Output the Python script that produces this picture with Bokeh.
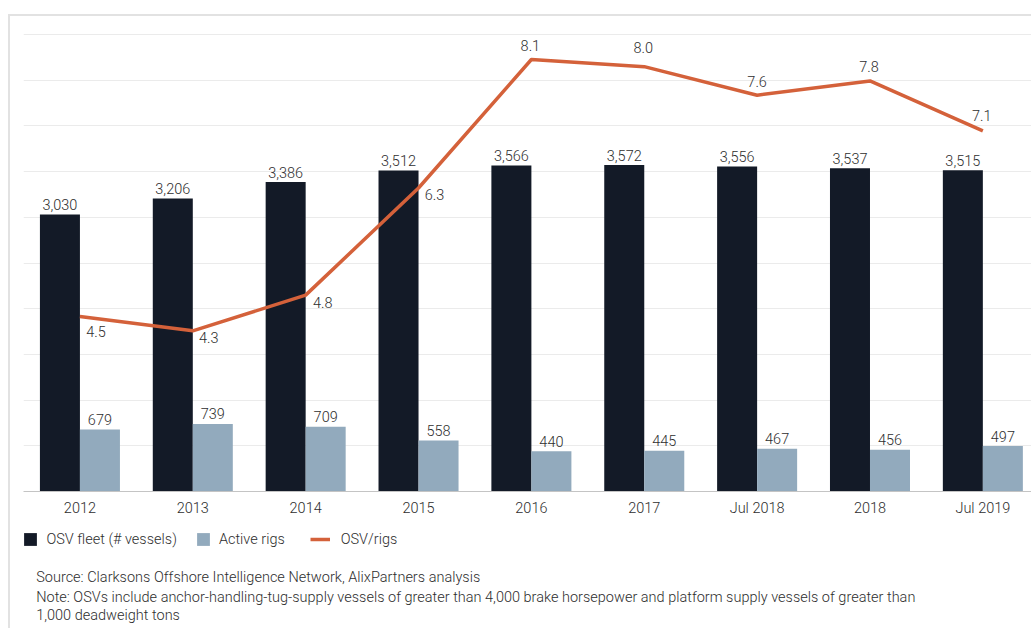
from bokeh.plotting import figure
from bokeh.layouts import column
from bokeh.models import (Range1d, FixedTicker, ColumnDataSource, Legend,
                          LegendItem, Label)
from bokeh.transform import dodge
from bokeh.core.properties import value
from bokeh.embed import file_html
from bokeh.resources import INLINE

# ---------------- data ----------------
categories = ["2012", "2013", "2014", "2015", "2016", "2017", "Jul 2018", "2018", "Jul 2019"]
osv_fleet = [3030, 3206, 3386, 3512, 3566, 3572, 3556, 3537, 3515]
active_rigs = [679, 739, 709, 558, 440, 445, 467, 456, 497]
osv_per_rig = [4.5, 4.3, 4.8, 6.3, 8.1, 8.0, 7.6, 7.8, 7.1]
series_names = ["OSV fleet (# vessels)", "Active rigs", "OSV/rigs"]

source_text = "Source: Clarksons Offshore Intelligence Network, AlixPartners analysis"
note_line1 = ("Note: OSVs include anchor-handling-tug-supply vessels of greater than 4,000 brake "
              "horsepower and platform supply vessels of greater than")
note_line2 = "1,000 deadweight tons"

# label placement (screen px offsets) for the ratio labels
ratio_dx = [16, 16, 17, 16, -1, -1, 0, -1, -1]
ratio_dy = [15, 7, 7, 6, -14, -19, -14, -14, -15]

# ---------------- style ----------------
FONT = "Roboto Light, Roboto"
FS = "14.5px"
TXT = "#2e2e2e"
DARK = "#131a27"
LIGHT = "#92aabd"
ORANGE = "#d4613a"
BW = 0.3545

idx = list(range(len(categories)))
src = ColumnDataSource(dict(
    x=idx,
    fleet=osv_fleet,
    rigs=active_rigs,
    ratio=osv_per_rig,
    fleet_lbl=[f"{v:,}" for v in osv_fleet],
    rigs_lbl=[f"{v:,}" for v in active_rigs],
    ratio_lbl=[f"{v:.1f}" for v in osv_per_rig],
    dx=ratio_dx,
    dy=ratio_dy,
))

# ---------------- main chart ----------------
p = figure(width=1021, height=506, output_backend="svg", toolbar_location=None,
           x_range=Range1d(-0.5, 8.431), y_range=Range1d(0, 5044),
           y_axis_location=None,
           min_border_left=13, min_border_right=0, min_border_top=14,
           min_border_bottom=31)
p.extra_y_ranges = {"ratio": Range1d(2.05, 8.506)}
p.outline_line_color = None
p.background_fill_color = "white"
p.border_fill_color = "white"

p.xgrid.visible = False
p.ygrid.ticker = FixedTicker(ticks=[500 * k for k in range(1, 11)])
p.ygrid.grid_line_color = "#ebebeb"
p.ygrid.grid_line_width = 1

xa = p.xaxis[0]
xa.ticker = FixedTicker(ticks=idx)
xa.major_label_overrides = {i: c for i, c in zip(idx, categories)}
xa.axis_line_color = "#c4c4c4"
xa.major_tick_line_color = None
xa.minor_tick_line_color = None
xa.major_label_standoff = 2
xa.major_label_text_font = FONT
xa.major_label_text_font_size = FS
xa.major_label_text_color = TXT

p.vbar(x=dodge("x", -BW / 2, range=p.x_range), top="fleet", width=BW,
       fill_color=DARK, line_color=None, source=src)
p.vbar(x=dodge("x", BW / 2, range=p.x_range), top="rigs", width=BW,
       fill_color=LIGHT, line_color=None, source=src)
p.line(x="x", y="ratio", y_range_name="ratio", line_color=ORANGE,
       line_width=3.5, line_join="round", source=src)

common = dict(text_font=value(FONT), text_font_size=FS, text_color=TXT,
              text_align="center", text_baseline="middle", source=src)
p.text(x=dodge("x", -BW / 2, range=p.x_range), y="fleet", text="fleet_lbl",
       y_offset=-10, **common)
p.text(x=dodge("x", BW / 2, range=p.x_range), y="rigs", text="rigs_lbl",
       y_offset=-10, **common)
p.text(x="x", y="ratio", y_range_name="ratio", text="ratio_lbl",
       x_offset="dx", y_offset="dy", **common)

# ---------------- legend + notes panel ----------------
H2 = 106
p2 = figure(width=1021, height=H2, output_backend="svg", toolbar_location=None,
            x_range=Range1d(0, 1), y_range=Range1d(0, 1),
            x_axis_location=None, y_axis_location=None, min_border=0)
p2.grid.visible = False
p2.outline_line_color = None
p2.background_fill_color = "white"
p2.border_fill_color = "white"

# legend-only renderers (same series, hidden in this panel)
k1 = p2.vbar(x="x", top="fleet", width=BW, fill_color=DARK, line_color=None,
             source=src, visible=False)
k2 = p2.vbar(x="x", top="rigs", width=BW, fill_color=LIGHT, line_color=None,
             source=src, visible=False)
k3 = p2.line(x="x", y="ratio", line_color=ORANGE, line_width=3.5,
             source=src, visible=False)

leg_common = dict(orientation="horizontal", margin=0, padding=0, glyph_height=16,
                  border_line_color=None, background_fill_alpha=0,
                  inactive_fill_alpha=0, click_policy="none",
                  label_text_font=FONT, label_text_font_size=FS, label_text_color=TXT)
legend1 = Legend(items=[LegendItem(label=series_names[0], renderers=[k1]),
                        LegendItem(label=series_names[1], renderers=[k2])],
                 location=(-0.6, H2 - 25.5), spacing=18, glyph_width=16,
                 label_standoff=8, **leg_common)
legend2 = Legend(items=[LegendItem(label=series_names[2], renderers=[k3])],
                 location=(286.7, H2 - 25.5), spacing=0, glyph_width=20,
                 label_standoff=11, **leg_common)
p2.add_layout(legend1)
p2.add_layout(legend2)

for txt, cy in [(source_text, 54.7), (note_line1, 74.7), (note_line2, 93)]:
    p2.add_layout(Label(x=12.7, y=H2 - cy, x_units="screen", y_units="screen", text=txt,
                        text_font=FONT, text_font_size=FS, text_color=TXT,
                        text_align="left", text_baseline="middle"))

layout = column(p, p2, spacing=0, margin=(14, 0, 0, 8),
                styles={"border-top": "2px solid #e2e2e2", "border-left": "2px solid #e2e2e2"})

open("out.html", "w").write(file_html(layout, INLINE))
